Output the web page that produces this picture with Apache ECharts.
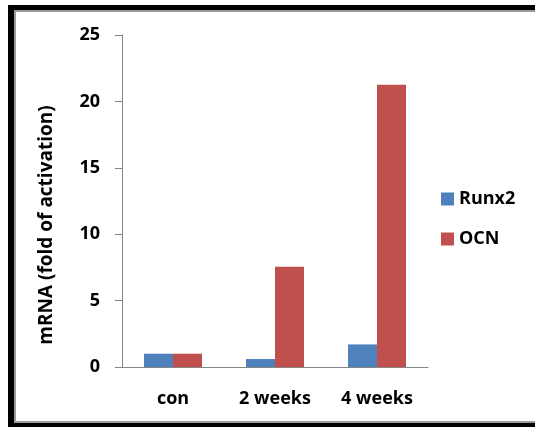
<!DOCTYPE html>
<html><head><meta charset="utf-8">
<script src="https://cdn.jsdelivr.net/npm/echarts@6/dist/echarts.min.js"></script>
<style>html,body{margin:0;padding:0;background:#fff}#c{width:535px;height:427px}</style>
</head><body><div id="c"></div>
<script>
const categories = ['con', '2 weeks', '4 weeks'];
const runx2 = [1.0, 0.6, 1.7];
const ocn = [1.0, 7.55, 21.25];
const yTicks = [0, 5, 10, 15, 20, 25];

const chart = echarts.init(document.getElementById('c'), null, {renderer: 'canvas'});
const font = '"Open Sans", Lato, sans-serif';
chart.setOption({
  animation: false,
  graphic: [
    {type: 'rect', z: -10, shape: {x: 8, y: 5, width: 600, height: 500}, style: {fill: '#000'}},
    {type: 'rect', z: -9, shape: {x: 15, y: 11, width: 600, height: 411}, style: {fill: '#fff', stroke: '#9a9a9a', lineWidth: 2}}
  ],
  grid: {left: 122, right: 107, top: 35, bottom: 60, containLabel: false},
  legend: {
    orient: 'vertical', left: 441, top: 190, padding: 0,
    itemWidth: 13, itemHeight: 13, itemGap: 22,
    icon: 'rect',
    textStyle: {fontFamily: font, fontWeight: 'bold', fontSize: 18, color: '#000', lineHeight: 16, padding: [0, 0, 0, 0]},
    data: ['Runx2', 'OCN']
  },
  xAxis: {
    type: 'category', data: categories,
    axisLine: {lineStyle: {color: '#868686', width: 1}},
    axisTick: {length: 8, lineStyle: {color: '#868686'}},
    axisLabel: {margin: 23, fontFamily: font, fontWeight: 'bold', fontSize: 18, color: '#000'}
  },
  yAxis: {
    type: 'value', min: 0, max: 25, interval: 5,
    name: 'mRNA (fold of activation)', nameLocation: 'middle', nameGap: 66,
    nameTextStyle: {fontFamily: font, fontWeight: 'bold', fontSize: 19, color: '#000', padding: [0, 48, 0, 0]},
    axisLine: {show: true, lineStyle: {color: '#868686', width: 1}},
    axisTick: {show: true, length: 7, lineStyle: {color: '#868686'}},
    splitLine: {show: false},
    axisLabel: {margin: 22, fontFamily: font, fontWeight: 'bold', fontSize: 18, color: '#000',
      formatter: v => yTicks.includes(v) ? String(v) : ''}
  },
  series: [
    {name: 'Runx2', type: 'bar', data: runx2, barWidth: 29, barGap: '0%', itemStyle: {color: '#4F81BD'}},
    {name: 'OCN', type: 'bar', data: ocn, barWidth: 29, barGap: '0%', itemStyle: {color: '#C0504D'}}
  ]
});
</script></body></html>
